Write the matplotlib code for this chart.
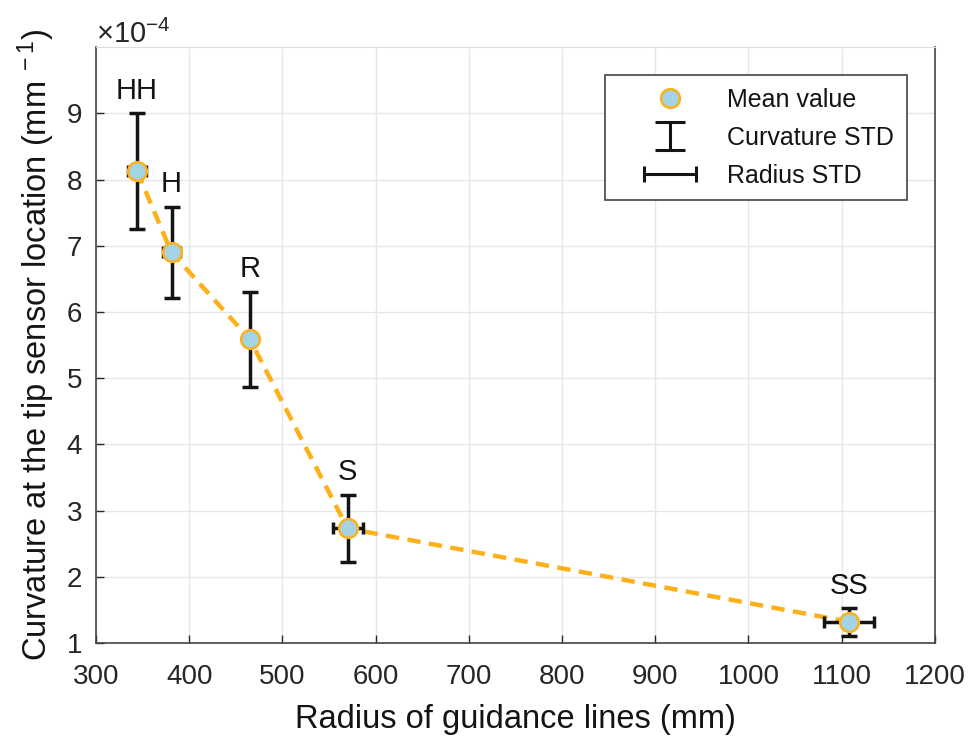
import matplotlib
matplotlib.use("Agg")
import matplotlib.pyplot as plt
from matplotlib.lines import Line2D
from matplotlib.legend_handler import HandlerErrorbar

plt.rcParams['font.family'] = ['Liberation Sans', 'DejaVu Sans']
plt.rcParams['mathtext.fontset'] = 'custom'
plt.rcParams['mathtext.rm'] = 'Liberation Sans'
plt.rcParams['mathtext.it'] = 'Liberation Sans:italic'
plt.rcParams['mathtext.bf'] = 'Liberation Sans:bold'

# data
labels = ['HH', 'H', 'R', 'S', 'SS']
radius = [344, 381, 465, 570, 1108]          # mm
radius_std = [10, 9, 5, 16, 27]              # mm
curvature = [8.13e-4, 6.90e-4, 5.59e-4, 2.73e-4, 1.32e-4]   # 1/mm
curvature_std = [0.87e-4, 0.69e-4, 0.72e-4, 0.51e-4, 0.21e-4]

line_orange = '#FDB017'
face_blue = '#A3D3E4'
dark = '#141414'

fig = plt.figure(figsize=(9.73, 7.39), dpi=100)
ax = fig.add_axes([0.0987, 0.130, 0.862, 0.806])

# dashed trend line
ax.plot(radius, curvature, color=line_orange, lw=3.2, dashes=(3.0, 1.9), zorder=2)

ax.errorbar(radius, curvature, yerr=curvature_std, fmt='none', ecolor=dark,
            elinewidth=2.5, capsize=6, capthick=2.5, zorder=3)
ax.errorbar(radius, curvature, xerr=radius_std, fmt='none', ecolor=dark,
            elinewidth=2.5, capsize=4.5, capthick=2.5, zorder=3)
ax.plot(radius, curvature, 'o', ms=13.5, mfc=face_blue, mec=line_orange, mew=1.8,
        ls='none', zorder=4)

for lab, x, y, e in zip(labels, radius, curvature, curvature_std):
    ax.annotate(lab, (x, y + e), xytext=(0, 6), textcoords='offset points',
                ha='center', va='bottom', fontsize=21, color=dark)

# legend proxies drawn outside the visible range
eb_y = ax.errorbar([0], [0], yerr=[1e-5], fmt='none', ecolor=dark,
                   elinewidth=2.2, capsize=11, capthick=2.2)
eb_x = ax.errorbar([0], [0], xerr=[1], fmt='none', ecolor=dark,
                   elinewidth=2.2, capsize=5.5, capthick=2.2)
mean_handle = Line2D([], [], marker='o', ms=13.5, mfc=face_blue, mec=line_orange, mew=1.8,
                     ls='none')

ax.set_xlim(300, 1200)
ax.set_ylim(1e-4, 10e-4)
ax.set_xticks(range(300, 1201, 100))
ax.set_yticks([i * 1e-4 for i in range(1, 10)])
ax.ticklabel_format(axis='y', style='sci', scilimits=(-4, -4), useMathText=True)
ax.yaxis.get_offset_text().set_fontsize(21)
ax.yaxis.get_offset_text().set_color('#262626')

ax.grid(True, color='#e6e6e6', lw=1)
ax.set_axisbelow(True)
ax.tick_params(direction='in', length=6, width=1, colors='#262626', labelsize=20,
               top=False, right=False)
ax.tick_params(axis='y', pad=10)
ax.tick_params(axis='x', pad=15)
for side in ['left', 'bottom', 'right']:
    ax.spines[side].set_color('#444444')
    ax.spines[side].set_linewidth(1.2)
ax.spines['top'].set_color('#dddddd')

ax.set_xlabel('Radius of guidance lines (mm)', fontsize=23.5, color=dark, labelpad=10)
ax.set_ylabel(r'Curvature at the tip sensor location (mm$^{\mathrm{\ -1}}$)', fontsize=23.5,
              color=dark, labelpad=6)

leg = ax.legend([mean_handle, eb_y, eb_x], ['Mean value', 'Curvature STD', 'Radius STD'],
                handler_map={eb_y: HandlerErrorbar(yerr_size=0.57),
                             eb_x: HandlerErrorbar(xerr_size=1.04)},
                loc='upper right', bbox_to_anchor=(0.9666, 0.953), fontsize=18,
                fancybox=False, edgecolor='#444444', framealpha=1, handlelength=4.2,
                borderpad=0.5, labelspacing=0.56, handletextpad=0.2, borderaxespad=0)
leg.get_frame().set_linewidth(1.2)
for t in leg.get_texts():
    t.set_color(dark)

fig.savefig('out.png', dpi=100)
